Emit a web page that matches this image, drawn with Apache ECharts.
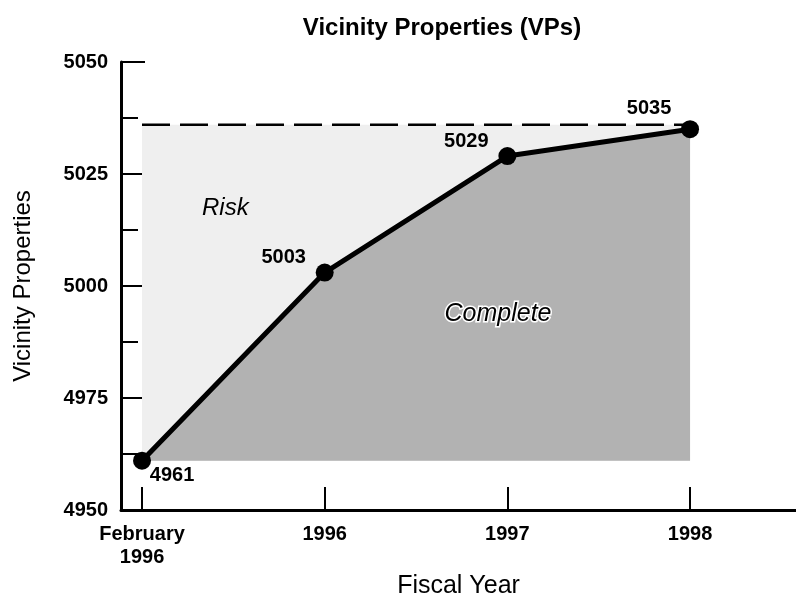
<!DOCTYPE html>
<html>
<head>
<meta charset="utf-8">
<script src="https://cdn.jsdelivr.net/npm/echarts@6/dist/echarts.min.js"></script>
<style>html,body{margin:0;padding:0;background:#fff}#c{width:796px;height:595px}</style>
</head>
<body>
<div id="c"></div>
<script>
// ---- data ----
var categories = ['February\n1996', '1996', '1997', '1998'];
var values = [4961, 5003, 5029, 5035];
var riskLevel = 5036;
var yMin = 4950, yMax = 5050, yInterval = 25;
var titleText = 'Vicinity Properties (VPs)';
var xName = 'Fiscal Year';
var yName = 'Vicinity Properties';
var regionLabels = ['Risk', 'Complete'];

// ---- styling ----
var FONT = '"Liberation Sans", Arial, Helvetica, sans-serif';
var labelOffsets = [[30, 15], [-41, -15], [-41, -15], [-41, -21]];

var chart = echarts.init(document.getElementById('c'), null, {renderer: 'canvas'});

var xIdx = categories.map(function (_, i) { return i; });
var lineData = values.map(function (v, i) {
  return {
    value: [i, v],
    label: {offset: labelOffsets[i]}
  };
});
var riskData = [[0, riskLevel], [categories.length - 1, riskLevel]];

var option = {
  backgroundColor: '#ffffff',
  animation: false,
  title: {
    text: titleText,
    left: 437,
    top: 11,
    textAlign: 'center',
    textStyle: {fontFamily: FONT, fontSize: 24, fontWeight: 'bold', color: '#000'}
  },
  grid: {left: 121, right: 0, top: 62, bottom: 85, outerBoundsMode: 'none', containLabel: false},
  xAxis: {
    type: 'value',
    min: -0.115,
    max: 3.58,
    name: xName,
    nameLocation: 'middle',
    nameGap: 56,
    nameTextStyle: {fontFamily: FONT, fontSize: 25, color: '#000'},
    axisLine: {show: true, onZero: false, lineStyle: {color: '#000', width: 3}},
    axisTick: {show: true, inside: true, length: 23, lineStyle: {color: '#000', width: 2}, customValues: xIdx},
    axisLabel: {
      show: true, customValues: xIdx, margin: 13,
      fontFamily: FONT, fontSize: 20, fontWeight: 'bold', color: '#000', lineHeight: 23,
      formatter: function (v) { return categories[Math.round(v)]; }
    },
    splitLine: {show: false}
  },
  yAxis: {
    type: 'value',
    min: yMin,
    max: yMax,
    interval: yInterval,
    name: yName,
    nameLocation: 'middle',
    nameGap: 86,
    nameTextStyle: {fontFamily: FONT, fontSize: 24, color: '#000'},
    axisLine: {show: true, onZero: false, lineStyle: {color: '#000', width: 3}},
    axisTick: {show: true, inside: true, length: 24, lineStyle: {color: '#000', width: 2}},
    minorTick: {show: true, splitNumber: 2, length: 17, lineStyle: {color: '#000', width: 2}},
    axisLabel: {
      margin: 13, fontFamily: FONT, fontSize: 20, fontWeight: 'bold', color: '#000',
      formatter: function (v) { return String(v); }
    },
    splitLine: {show: false}
  },
  series: [
    {
      name: 'Risk',
      type: 'line',
      data: riskData,
      symbol: 'none',
      silent: true,
      z: 1,
      lineStyle: {color: '#000', width: 2.5, type: [28, 10]},
      areaStyle: {color: '#efefef', opacity: 1, origin: values[0]}
    },
    {
      name: 'Complete',
      type: 'line',
      data: lineData,
      symbol: 'circle',
      symbolSize: 18,
      z: 2,
      itemStyle: {color: '#000'},
      lineStyle: {color: '#000', width: 5},
      areaStyle: {color: '#b2b2b2', opacity: 1, origin: values[0]},
      label: {
        show: true,
        position: 'inside',
        formatter: function (p) { return String(values[p.dataIndex]); },
        fontFamily: FONT, fontSize: 20, fontWeight: 'bold', color: '#000'
      }
    }
  ],
  graphic: [
    {
      type: 'text', left: 202, top: 196, z: 10,
      style: {text: regionLabels[0], font: 'italic 24px ' + FONT, fill: '#000'}
    },
    {
      type: 'text', left: 443, top: 300, z: 10,
      style: {text: regionLabels[1], font: 'italic 25px ' + FONT, fill: '#000', stroke: '#fff', lineWidth: 3}
    }
  ]
};
chart.setOption(option);
</script>
</body>
</html>
